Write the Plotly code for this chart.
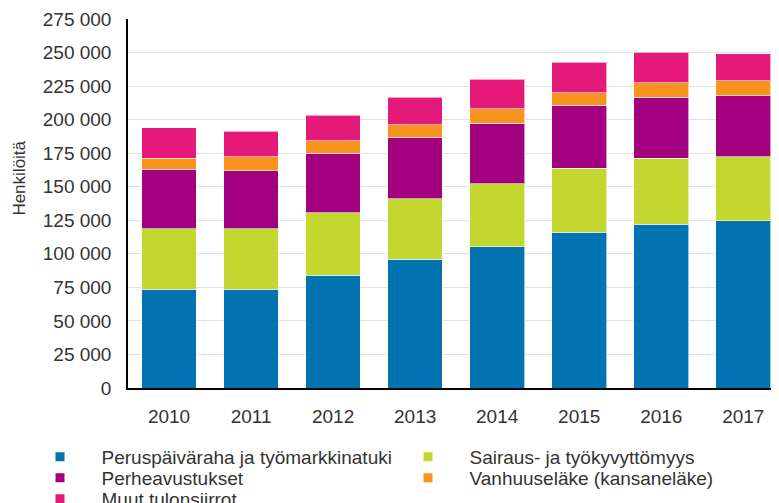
import plotly.graph_objects as go

years = ["2010", "2011", "2012", "2013", "2014", "2015", "2016", "2017"]
perus = [73500, 73500, 83900, 96100, 105300, 116200, 122200, 124700]
sairaus = [45000, 45000, 46700, 45000, 46800, 47500, 49000, 47800]
perhe = [44500, 43300, 44300, 45800, 45300, 47000, 45500, 45300]
vanhuus = [8200, 10700, 9400, 9400, 10900, 9400, 10700, 11000]
muut = [22800, 19000, 19000, 20500, 21700, 22700, 22900, 20400]

series_names = [
    "Peruspäiväraha ja työmarkkinatuki",
    "Sairaus- ja työkyvyttömyys",
    "Perheavustukset",
    "Vanhuuseläke (kansaneläke)",
    "Muut tulonsiirrot",
]
series_values = [perus, sairaus, perhe, vanhuus, muut]
series_colors = ["#0073b0", "#c2d82e", "#a3007f", "#f8941e", "#e5197a"]

ytick_vals = [0, 25000, 50000, 75000, 100000, 125000, 150000, 175000, 200000, 225000, 250000, 275000]
ytick_text = ["0", "25 000", "50 000", "75 000", "100 000", "125 000", "150 000",
              "175 000", "200 000", "225 000", "250 000", "275 000"]

FONT = "Liberation Sans, Arial, sans-serif"
TXT = "#333333"

# page body has an 8px default margin; figure is sized to fill the rest
OFF = 8
W, H = 779 - OFF, 503 - OFF

# legend layout: (column x of marker centre, row y centre) in window pixels
leg_cols = [60, 428, 60, 428, 60]
leg_rows = [457, 457, 478, 478, 499]
leg_keys = ["legend", "legend2", "legend3", "legend4", "legend5"]
ITEMW = 73

fig = go.Figure()
for name, vals, col in zip(series_names, series_values, series_colors):
    fig.add_trace(go.Bar(
        x=years, y=vals, name=name, marker_color=col,
        marker_line=dict(color="rgba(255,255,255,0.6)", width=1),
        showlegend=False,
    ))
for name, col, lg in zip(series_names, series_colors, leg_keys):
    fig.add_trace(go.Scatter(
        x=[None], y=[None], mode="markers", name=name,
        marker=dict(symbol="square", size=9, color=col),
        legend=lg, showlegend=True,
    ))

def leg(xm, yc):
    return dict(
        orientation="v", xref="container", yref="container",
        x=(xm - OFF - (ITEMW / 2 + 5)) / W, xanchor="left",
        y=1 - (yc - OFF) / H, yanchor="middle",
        itemwidth=ITEMW, bgcolor="rgba(0,0,0,0)",
        font=dict(family=FONT, size=19, color=TXT),
    )

legends = {k: leg(xm, yc) for k, xm, yc in zip(leg_keys, leg_cols, leg_rows)}

plot_left = 128.3 - OFF
plot_top = 19.3 - OFF
plot_bottom = 387.7 - OFF
plot_w = W - plot_left
plot_h = plot_bottom - plot_top

fig.update_layout(
    template="none",
    width=W, height=H,
    margin=dict(l=plot_left, r=0, t=plot_top, b=H - plot_bottom, autoexpand=False),
    plot_bgcolor="white", paper_bgcolor="white",
    barmode="stack", bargap=0.334,
    font=dict(family=FONT, size=19, color=TXT),
    **legends,
    xaxis=dict(
        type="category", range=[-0.5, 7.435], showgrid=False, showline=True,
        automargin=False, linecolor="#000000", linewidth=1.5, ticks="",
        tickfont=dict(family=FONT, size=19, color=TXT),
        ticklabelstandoff=10,
    ),
    yaxis=dict(
        range=[0, 275000], tickvals=ytick_vals, ticktext=ytick_text, automargin=False,
        showgrid=True, gridcolor="#e0e0e0", gridwidth=1,
        showline=True, linecolor="#000000", linewidth=1.5,
        zeroline=False, ticks="",
        tickfont=dict(family=FONT, size=19, color=TXT),
        ticklabelstandoff=11,
    ),
    annotations=[dict(
        text="Henkilöitä", textangle=-90, xref="paper", yref="paper",
        x=((20 - OFF) - plot_left) / plot_w,
        y=(plot_bottom - (178 - OFF)) / plot_h,
        xanchor="center", yanchor="middle", showarrow=False,
        font=dict(family=FONT, size=17, color=TXT),
    )],
)

fig.write_html("out.html")
